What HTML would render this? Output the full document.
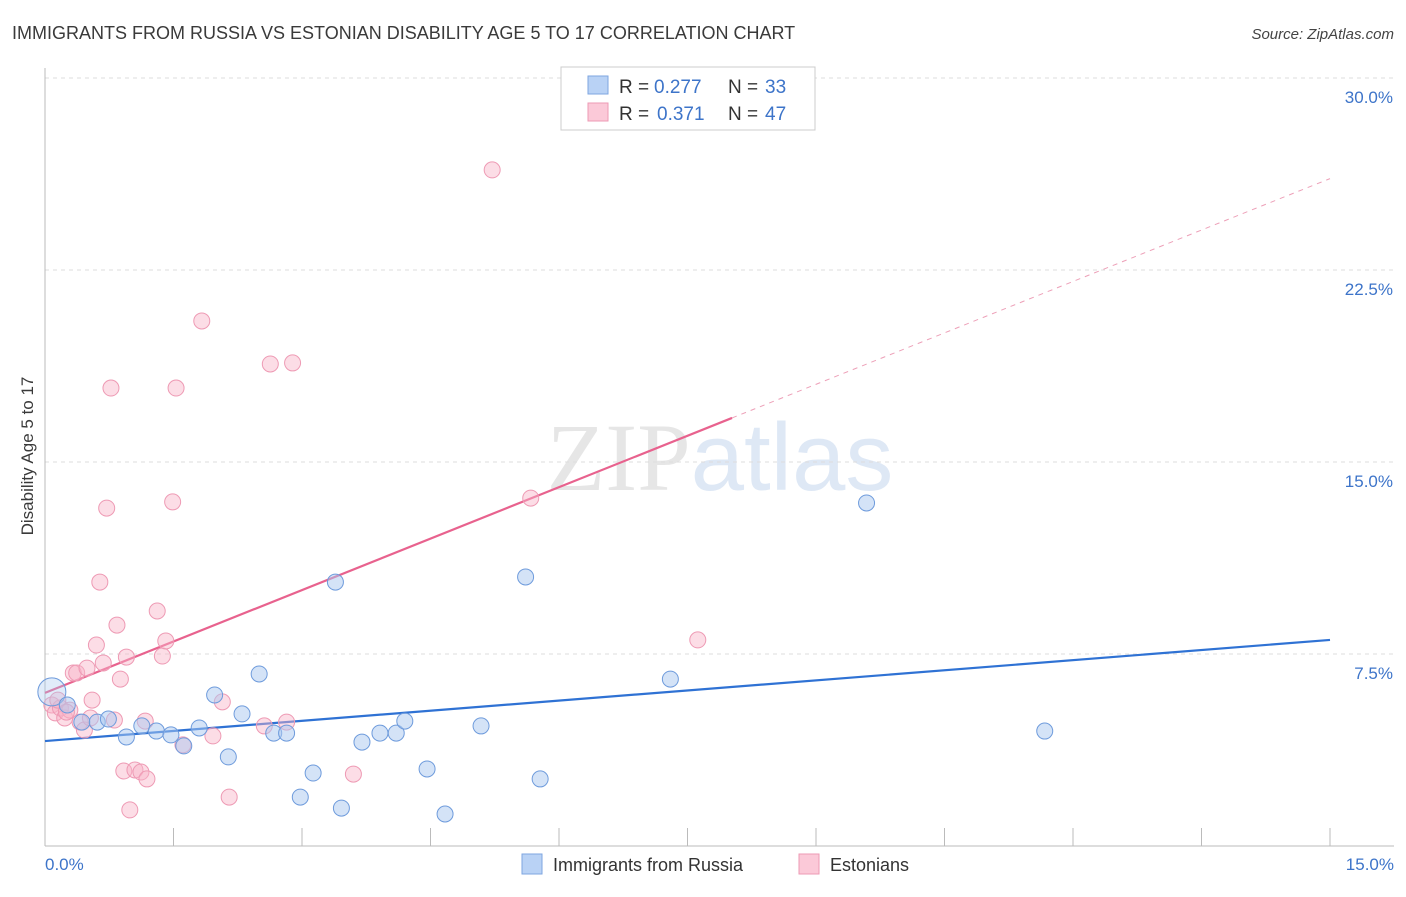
<!DOCTYPE html>
<html><head><meta charset="utf-8">
<style>
body{margin:0;background:#fff;font-family:"Liberation Sans",sans-serif;}
svg text{font-family:"Liberation Sans",sans-serif;}
</style></head>
<body>
<svg id="chart" width="1406" height="892" viewBox="0 0 1406 892" xmlns="http://www.w3.org/2000/svg">
<text x="12" y="39" font-size="18" fill="#3a3a3a">IMMIGRANTS FROM RUSSIA VS ESTONIAN DISABILITY AGE 5 TO 17 CORRELATION CHART</text>
<text x="1394" y="39" font-size="15" fill="#444" text-anchor="end" font-style="italic">Source: ZipAtlas.com</text>
<text x="720" y="490" font-size="96" text-anchor="middle" opacity="0.45"><tspan font-family="Liberation Serif" fill="#c8c8c8">ZIP</tspan><tspan fill="#b8cdea">atlas</tspan></text>
<g id="grid"></g>
<g id="axes"></g>
<g id="trends"></g>
<g id="points"></g>
<text transform="translate(33,456) rotate(-90)" font-size="17" fill="#3a3a3a" text-anchor="middle">Disability Age 5 to 17</text>
<text x="45" y="870" font-size="17" fill="#3d74c9">0.0%</text>
<text x="1394" y="870" font-size="17" fill="#3d74c9" text-anchor="end">15.0%</text>
<g>
<rect x="561" y="67" width="254" height="63" fill="#fff" stroke="#ccc"/>
<rect x="588" y="76" width="20" height="18" fill="#b9d2f5" stroke="#7ea6e0"/>
<rect x="588" y="103" width="20" height="18" fill="#fbc9d8" stroke="#ee9ab4"/>
<text x="619" y="93" font-size="19" fill="#333">R =</text>
<text x="654" y="93" font-size="19" fill="#3d74c9">0.277</text>
<text x="728" y="93" font-size="19" fill="#333">N =</text>
<text x="765" y="93" font-size="19" fill="#3d74c9">33</text>
<text x="619" y="120" font-size="19" fill="#333">R =</text>
<text x="657" y="120" font-size="19" fill="#3d74c9">0.371</text>
<text x="728" y="120" font-size="19" fill="#333">N =</text>
<text x="765" y="120" font-size="19" fill="#3d74c9">47</text>
</g>
<g>
<rect x="522" y="854" width="20" height="20" fill="#b9d2f5" stroke="#7ea6e0"/>
<text x="553" y="871" font-size="18" fill="#333">Immigrants from Russia</text>
<rect x="799" y="854" width="20" height="20" fill="#fbc9d8" stroke="#ee9ab4"/>
<text x="830" y="871" font-size="18" fill="#333">Estonians</text>
</g>
</svg>
<script>
const yTicks=[7.5,15,22.5,30];
const yTickLabels=["7.5%","15.0%","22.5%","30.0%"];
const xTicks=[0,1.5,3,4.5,6,7.5,9,10.5,12,13.5,15];
const russiaX=[0.08,0.26,0.43,0.61,0.74,0.95,1.13,1.30,1.47,1.62,1.80,1.98,2.14,2.30,2.50,2.67,2.82,2.98,3.13,3.39,3.46,3.70,3.91,4.10,4.20,4.46,4.67,5.09,5.61,5.78,7.30,9.59,11.67];
const russiaY=[6.02,5.51,4.84,4.84,4.96,4.26,4.69,4.49,4.34,3.91,4.61,5.90,3.48,5.16,6.72,4.41,4.41,1.91,2.85,10.31,1.48,4.06,4.41,4.41,4.88,3.01,1.25,4.69,10.51,2.62,6.52,13.40,4.49];
const estX=[0.08,0.12,0.18,0.23,0.29,0.33,0.37,0.41,0.46,0.49,0.53,0.55,0.60,0.64,0.68,0.72,0.77,0.81,0.84,0.88,0.95,0.92,0.99,1.05,1.12,1.17,1.19,1.31,1.37,1.41,1.49,1.53,1.61,1.83,1.96,2.07,2.15,2.56,2.63,2.82,2.89,3.60,5.22,5.67,7.62,0.15,0.25];
const estY=[5.51,5.20,5.39,5.00,5.31,6.76,6.76,4.84,4.53,6.95,5.00,5.70,7.85,10.31,7.15,13.20,17.89,4.92,8.63,6.52,7.38,2.93,1.41,2.97,2.89,4.88,2.62,9.18,7.42,8.01,13.44,17.89,3.95,20.51,4.30,5.63,1.91,4.69,18.83,4.84,18.87,2.81,26.41,13.59,8.05,5.70,5.23];
const russiaTrend=[4.10,8.05];
const estTrend=[5.98,26.07];
const estSolidEnd=8.02;
const NS="http://www.w3.org/2000/svg";
const xs=v=>45+v*85.667, ys=v=>846-v*25.6;
function mk(parent,tag,attrs){const e=document.createElementNS(NS,tag);for(const k in attrs)e.setAttribute(k,attrs[k]);document.getElementById(parent).appendChild(e);return e;}
yTicks.forEach((t,i)=>{
 const l=mk('grid','line',{x1:45,x2:1394,y1:ys(t),y2:ys(t),stroke:'#ddd','stroke-dasharray':'4,4'});
 
 
 const tx=mk('grid','text',{x:1393,y:ys(t)+25,'font-size':17,fill:'#3d74c9','text-anchor':'end'});
 tx.textContent=yTickLabels[i];
 
 
});
const ax=mk('axes','line',{x1:45,x2:45,y1:68,y2:846,stroke:'#bbb'});


const bx=mk('axes','line',{x1:45,x2:1394,y1:846,y2:846,stroke:'#bbb'});


xTicks.forEach(t=>{
 const l=mk('axes','line',{x1:xs(t),x2:xs(t),y1:828,y2:846,stroke:'#bbb'});
 
 
});
const pd=mk('trends','line',{x1:xs(estSolidEnd),y1:ys(estTrend[0]+(estTrend[1]-estTrend[0])*estSolidEnd/15),x2:xs(15),y2:ys(estTrend[1]),stroke:'#eda0b8','stroke-dasharray':'5,5','stroke-width':1});


const ps=mk('trends','line',{x1:xs(0),y1:ys(estTrend[0]),x2:xs(estSolidEnd),y2:ys(estTrend[0]+(estTrend[1]-estTrend[0])*estSolidEnd/15),stroke:'#e8628e','stroke-width':2.2});


const bt=mk('trends','line',{x1:xs(0),y1:ys(russiaTrend[0]),x2:xs(15),y2:ys(russiaTrend[1]),stroke:'#2f72d4','stroke-width':2.2});


estX.forEach((x,i)=>{
 const c=mk('points','circle',{cx:xs(x),cy:ys(estY[i]),r:8,fill:'rgba(248,180,200,0.45)',stroke:'#ee9ab4','stroke-width':1});
 
 
});
russiaX.forEach((x,i)=>{
 const c=mk('points','circle',{cx:xs(x),cy:ys(russiaY[i]),r:i===0?14:8,fill:i===0?'rgba(170,200,240,0.35)':'rgba(170,200,240,0.5)',stroke:'#6e9bdc','stroke-width':1});
 
 
});
</script>
</body></html>
